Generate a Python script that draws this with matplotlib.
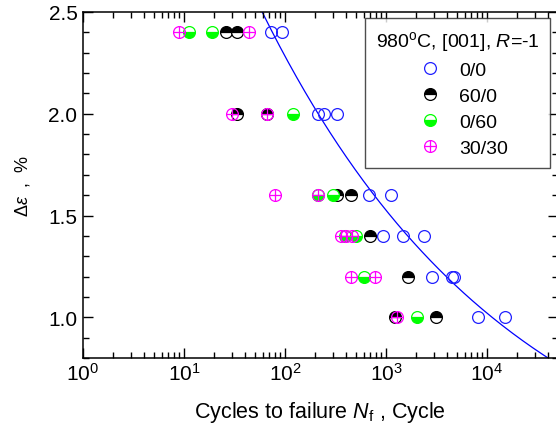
# fatigue life vs strain range, 980C [001] single crystal
import numpy as np
import matplotlib
matplotlib.use("Agg")
import matplotlib.pyplot as plt
from matplotlib.path import Path
from matplotlib.ticker import MultipleLocator, LogLocator, NullFormatter

plt.rcParams['font.family'] = ['Liberation Sans', 'DejaVu Sans']
plt.rcParams['mathtext.fontset'] = 'custom'
plt.rcParams['mathtext.rm'] = 'Liberation Sans'
plt.rcParams['mathtext.it'] = 'Liberation Sans:italic'

# hold times (tension/compression)
n_00 = [72.6, 93.4, 212, 243, 327, 679, 1122, 934, 1473, 2378, 2853, 4500, 4750, 8150, 15070]
e_00 = [2.4, 2.4, 2.0, 2.0, 2.0, 1.6, 1.6, 1.4, 1.4, 1.4, 1.2, 1.2, 1.2, 1.0, 1.0]

n_600 = [26, 33.5, 33.5, 66.3, 327, 450, 695, 1651, 1228, 3126]
e_600 = [2.4, 2.4, 2.0, 2.0, 1.6, 1.6, 1.4, 1.2, 1.0, 1.0]

n_060 = [11.2, 18.9, 120, 212, 299, 393, 505, 606, 2028]
e_060 = [2.4, 2.4, 2.0, 1.6, 1.6, 1.4, 1.4, 1.2, 1.0]

n_3030 = [8.9, 44, 29.9, 66.3, 79.6, 212, 358, 402, 461, 450, 778, 1285]
e_3030 = [2.4, 2.4, 2.0, 2.0, 1.6, 1.6, 1.4, 1.4, 1.4, 1.2, 1.2, 1.0]

# points on the fitted curve for 0/0
fit_n = [60.5, 232, 679, 1473, 4500, 11200, 40000]
fit_e = [2.5, 2.0, 1.6, 1.4, 1.2, 1.0, 0.8]

blue = '#2020ff'
green = '#00ff00'
magenta = '#ff00ff'

circ_plus = Path.make_compound_path(
    Path.unit_circle(),
    Path([(-1, 0), (1, 0), (0, -1), (0, 1)],
         [Path.MOVETO, Path.LINETO, Path.MOVETO, Path.LINETO]))

fig = plt.figure(figsize=(5.56, 4.39), dpi=100)
ax = fig.add_axes([83/556, 1-359/439, (557.6-83)/556, 346/439])

# power law through the curve points
b, a = np.polyfit(np.log10(fit_n), np.log10(fit_e), 1)
nn = np.logspace(1.5, 4.8, 200)
ax.plot(nn, 10**a * nn**b, color='#0000ff', lw=0.9, zorder=1)

ms = 8.5
ax.plot(n_00, e_00, 'o', ls='none', ms=ms, mfc='none', mec=blue, mew=0.9, label='0/0')
ax.plot(n_600, e_600, 'o', ls='none', ms=ms, fillstyle='top', mfc='black',
        markerfacecoloralt='white', mec='black', mew=0.9, label='60/0')
ax.plot(n_060, e_060, 'o', ls='none', ms=ms, fillstyle='bottom', mfc=green,
        markerfacecoloralt='white', mec=green, mew=0.9, label='0/60')
ax.plot(n_3030, e_3030, marker=circ_plus, ls='none', ms=ms, mfc='none', mec=magenta,
        mew=0.9, label='30/30')

ax.set_xscale('log')
ax.set_xlim(1, 5e4)
ax.set_ylim(0.8, 2.5)
ax.yaxis.set_major_locator(MultipleLocator(0.5))
ax.yaxis.set_minor_locator(MultipleLocator(0.1))
ax.yaxis.set_major_formatter(matplotlib.ticker.FormatStrFormatter('%.1f'))
ax.xaxis.set_minor_locator(LogLocator(base=10, subs=np.arange(2, 10), numticks=20))
ax.xaxis.set_minor_formatter(NullFormatter())

ax.tick_params(which='both', direction='in', top=True, right=True, width=1.0)
ax.tick_params(which='major', length=7, labelsize=15)
ax.tick_params(which='minor', length=4)
ax.tick_params(axis='x', which='major', pad=3)
ax.tick_params(axis='y', which='major', pad=4)
for s in ax.spines.values():
    s.set_linewidth(1.1)

ax.set_xlabel(r'Cycles to failure $N_\mathrm{f}$ , Cycle', fontsize=15.5, labelpad=11)
ax.set_ylabel(r'$\Delta\varepsilon$  ,  %', fontsize=13, labelpad=12)

leg = ax.legend(title=r'980$^\mathrm{o}$C, [001], $R$=-1', loc='upper right',
                bbox_to_anchor=(0.984, 0.983), borderaxespad=0, fontsize=14,
                title_fontsize=14, frameon=True, fancybox=False, handlelength=2.3,
                handletextpad=0.35, labelspacing=0.44, borderpad=0.55)
leg.get_frame().set_edgecolor('#222222')
leg.get_frame().set_linewidth(1.0)

fig.savefig('out.png', dpi=100)
